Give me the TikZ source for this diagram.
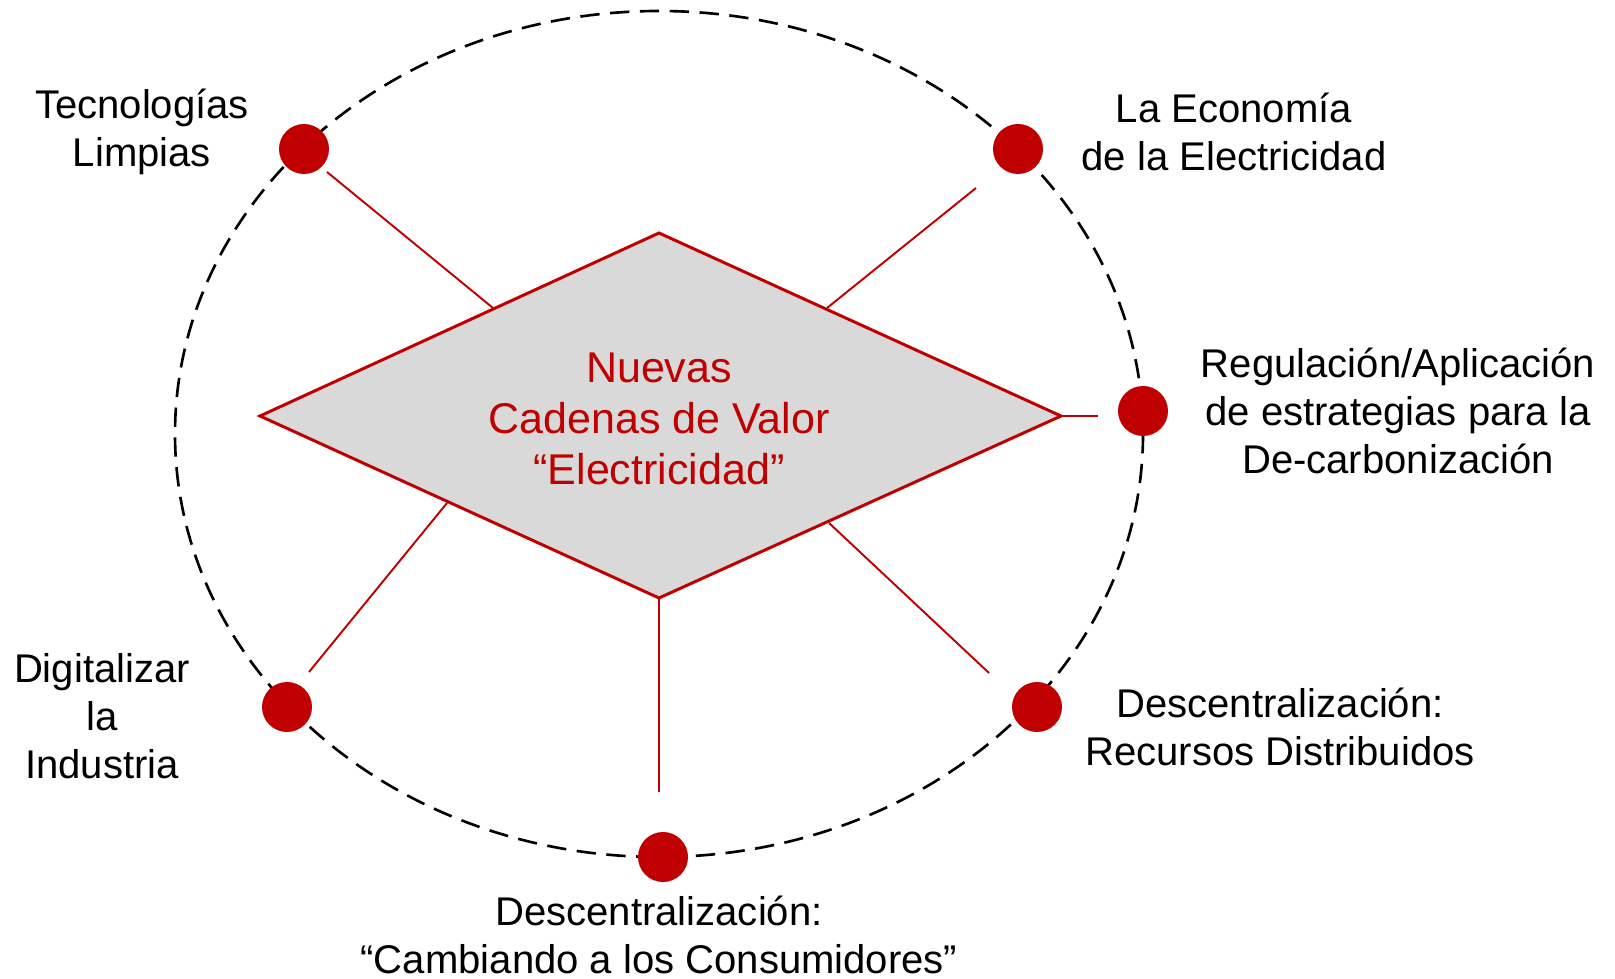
\documentclass[tikz,border=0pt]{standalone}
\usepackage{fontspec}
\setmainfont{Liberation Sans}
\usetikzlibrary{positioning}
\definecolor{darkred}{HTML}{C00000}
\definecolor{diamondgray}{HTML}{D9D9D9}

\begin{document}
\begin{tikzpicture}[x=0.02cm,y=-0.02cm]
	\tikzstyle{dot}=[circle,fill=darkred,inner sep=0pt,minimum size=50*0.02cm]
	\tikzstyle{label}=[align=center,font=\fontsize{22.8}{27.4}\selectfont]
	\tikzstyle{link}=[darkred,line width=1.1pt]
	\useasboundingbox (0,0) rectangle (1615,979);
	% outer ring
	\draw[black,line width=1.5pt,dash pattern=on 11pt off 6pt] (659,434) ellipse [x radius=484,y radius=423];
	% diamond
	\coordinate (dl) at (260,416);
	\coordinate (dt) at (659,233);
	\coordinate (dr) at (1061,416);
	\coordinate (db) at (659,598);
	\draw[darkred,line width=1.7pt,fill=diamondgray,line join=miter] (dl) -- (dt) -- (dr) -- (db) -- cycle;
	\node[label,text=darkred,font=\fontsize{24.5}{29}\selectfont] (core) at (659,419) {Nuevas\\Cadenas de Valor\\“Electricidad”};
		\node[dot] (tl) at (304,149) {};
		\node[dot] (tr) at (1018,149) {};
		\node[dot] (r) at (1143,411) {};
		\node[dot] (br) at (1037,707) {};
		\node[dot] (b) at (663,857) {};
		\node[dot] (bl) at (287,707) {};
		\node[label] (ltl) at (142,132) {Tecnologías\\Limpias};
		\node[label] (ltr) at (1234,132) {La Economía\\de la Electricidad};
		\node[label] (lr) at (1398,411) {Regulación/Aplicación\\de estrategias para la\\De-carbonización};
		\node[label] (lbr) at (1280,727) {Descentralización:\\Recursos Distribuidos};
		\node[label] (lb) at (659,935) {Descentralización:\\“Cambiando a los Consumidores”};
		\node[label] (lbl) at (102,716) {Digitalizar\\la\\Industria};
	% connectors
	\coordinate (etl) at (493,308);
	\coordinate (ftl) at (327,172);
	\coordinate (etr) at (827,308);
	\coordinate (ftr) at (976,188);
	\coordinate (fr) at (1098,416);
	\coordinate (ebr) at (829,523);
	\coordinate (fbr) at (989,673);
	\coordinate (fb) at (659,792);
	\coordinate (ebl) at (447,503);
	\coordinate (fbl) at (309,672);
			\draw[link] (etl) -- (ftl);
			\draw[link] (etr) -- (ftr);
			\draw[link] (dr) -- (fr);
			\draw[link] (ebr) -- (fbr);
			\draw[link] (db) -- (fb);
			\draw[link] (ebl) -- (fbl);
\end{tikzpicture}
\end{document}
